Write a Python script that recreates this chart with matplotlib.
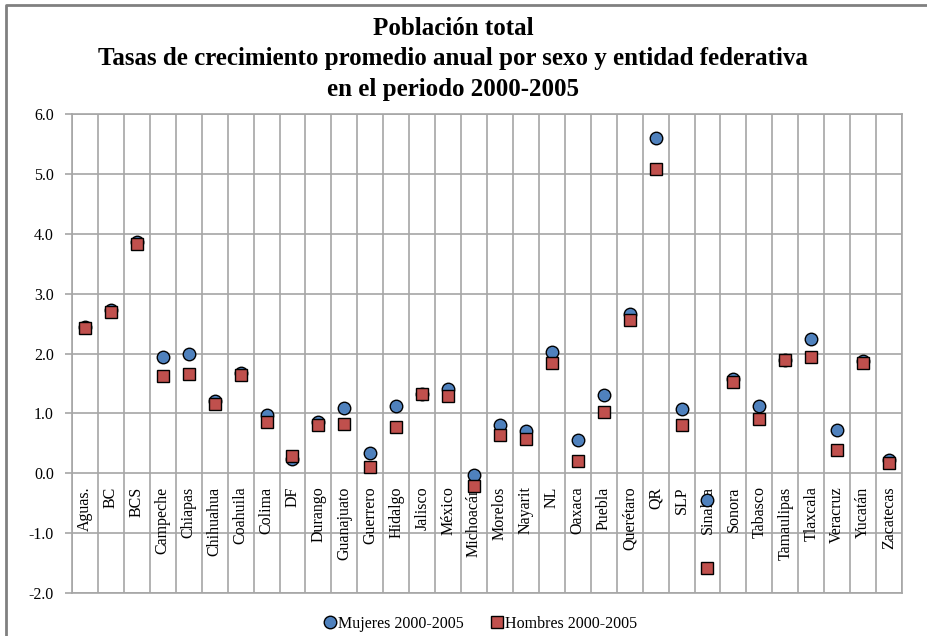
import matplotlib.pyplot as plt
import numpy as np
from matplotlib.lines import Line2D

estados = ['Aguas.', 'BC', 'BCS', 'Campeche', 'Chiapas', 'Chihuahua', 'Coahuila',
           'Colima', 'DF', 'Durango', 'Guanajuato', 'Guerrero', 'Hidalgo', 'Jalisco',
           'México', 'Michoacán', 'Morelos', 'Nayarit', 'NL', 'Oaxaca', 'Puebla',
           'Querétaro', 'QR', 'SLP', 'Sinaloa', 'Sonora', 'Tabasco', 'Tamaulipas',
           'Tlaxcala', 'Veracruz', 'Yucatán', 'Zacatecas']
mujeres = [2.45, 2.73, 3.86, 1.94, 1.99, 1.21, 1.68, 0.97, 0.24, 0.85, 1.09, 0.34,
           1.12, 1.33, 1.41, -0.02, 0.80, 0.70, 2.03, 0.56, 1.31, 2.67, 5.60, 1.07,
           -0.45, 1.58, 1.12, 1.90, 2.25, 0.73, 1.88, 0.22]
hombres = [2.43, 2.70, 3.84, 1.63, 1.66, 1.16, 1.64, 0.86, 0.29, 0.80, 0.83, 0.11,
           0.78, 1.32, 1.29, -0.21, 0.64, 0.57, 1.84, 0.20, 1.03, 2.56, 5.09, 0.81,
           -1.58, 1.53, 0.91, 1.89, 1.95, 0.39, 1.84, 0.17]

plt.rcParams['font.family'] = ['Liberation Serif', 'DejaVu Serif']

fig = plt.figure(figsize=(9.28, 6.36), dpi=100)
ax = fig.add_axes([0.0776, 0.0676, 0.8944, 0.7527])

# marco exterior (gris) arriba e izquierda
fig.add_artist(Line2D([6 / 928, 6 / 928, 1.0], [0.0, 1 - 5 / 636, 1 - 5 / 636],
                      transform=fig.transFigure, color='#808080', linewidth=2))

x = np.arange(len(estados))
ax.plot(x, mujeres, 'o', color='#4F81BD', markeredgecolor='black', markeredgewidth=1,
        markersize=9, label='Mujeres 2000-2005', zorder=3)
ax.plot(x, hombres, 's', color='#C0504D', markeredgecolor='black', markeredgewidth=1,
        markersize=8, label='Hombres 2000-2005', zorder=4)

ax.set_xlim(-0.5, len(estados) - 0.5)
ax.set_ylim(-2, 6)
ax.set_yticks(np.arange(-2, 7, 1))
ax.set_yticklabels([f'{v:.1f}' for v in np.arange(-2, 7, 1)], fontsize=11.5,
                   family=['Liberation Serif'])
ax.set_xticks(np.arange(-0.5, len(estados), 1))
ax.set_xticklabels([])
ax.tick_params(axis='y', length=5, color='#a6a6a6', width=1.2, pad=8)
ax.tick_params(axis='x', length=0)
ax.grid(True, color='#a6a6a6', linewidth=1.2)
ax.set_axisbelow(True)
for s in ax.spines.values():
    s.set_color('#a6a6a6')
    s.set_linewidth(1.2)

for i, e in enumerate(estados):
    ax.text(i, -0.22, e, rotation=90, ha='center', va='top', fontsize=11.5, zorder=2)

fig.text(0.488, 0.973,
         'Población total\nTasas de crecimiento promedio anual por sexo y entidad federativa\nen el periodo 2000-2005',
         ha='center', va='top', fontsize=18, fontweight='bold', linespacing=1.4)

fig.legend(loc='lower center', bbox_to_anchor=(0.517, -0.016), ncol=2, frameon=False,
           fontsize=11.5, handletextpad=0.0, columnspacing=1.6, markerscale=1.0,
           handlelength=1.0)

fig.savefig('out.png', dpi=100)
